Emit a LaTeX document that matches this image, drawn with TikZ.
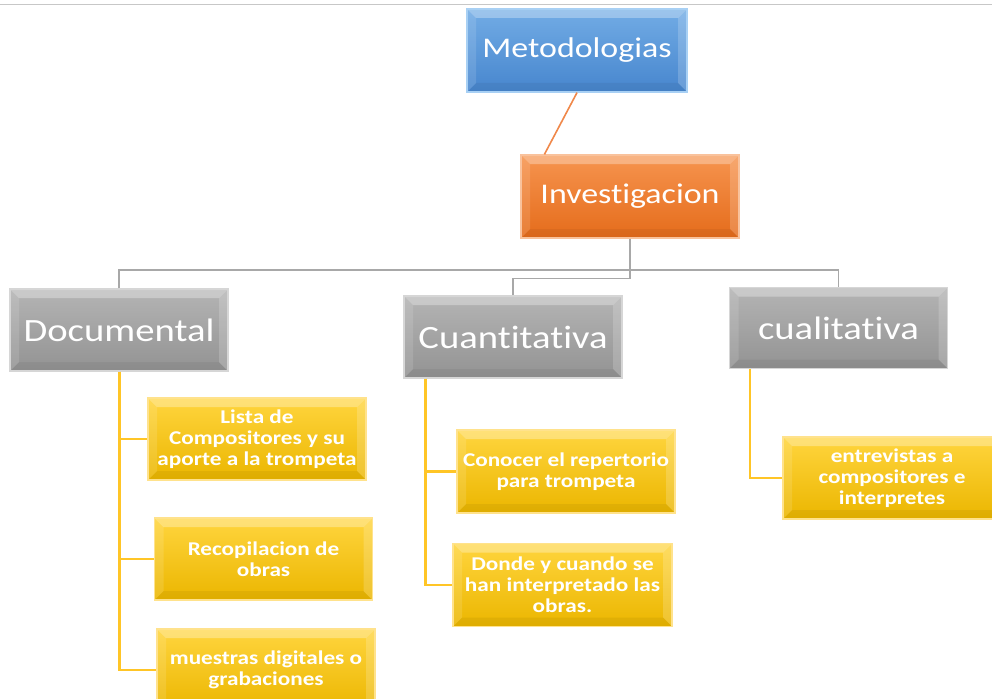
\documentclass[tikz,border=0pt]{standalone}
\usepackage{fontspec}
\setmainfont{Carlito}[FakeStretch=1.19, Ligatures={NoCommon}]
\usetikzlibrary{calc}
\definecolor{blueT}{HTML}{72ACE5}
\definecolor{blueB}{HTML}{4786CE}
\definecolor{blueD}{HTML}{A8D0F4}
\definecolor{orangeT}{HTML}{F6944F}
\definecolor{orangeB}{HTML}{E56C1B}
\definecolor{orangeD}{HTML}{F9C29C}
\definecolor{grayT}{HTML}{B4B4B4}
\definecolor{grayB}{HTML}{939393}
\definecolor{grayD}{HTML}{D6D6D6}
\definecolor{yellowT}{HTML}{FFD53E}
\definecolor{yellowB}{HTML}{EBB600}
\definecolor{yellowD}{HTML}{FFE28C}
\definecolor{lineGray}{HTML}{A8A8A8}
\definecolor{lineYellow}{HTML}{FFC526}
\definecolor{lineOrange}{HTML}{F0884A}
\tikzset{
  bevel/.style={path picture={
    \fill[white,opacity=.30] (path picture bounding box.north west) -- (path picture bounding box.north east)
      -- ([xshift=-9pt,yshift=-9pt]path picture bounding box.north east) -- ([xshift=9pt,yshift=-9pt]path picture bounding box.north west) -- cycle;
    \fill[white,opacity=.12] (path picture bounding box.north west) -- ([xshift=9pt,yshift=-9pt]path picture bounding box.north west)
      -- ([xshift=9pt,yshift=9pt]path picture bounding box.south west) -- (path picture bounding box.south west) -- cycle;
    \fill[white,opacity=.18] (path picture bounding box.north east) -- ([xshift=-9pt,yshift=-9pt]path picture bounding box.north east)
      -- ([xshift=-9pt,yshift=9pt]path picture bounding box.south east) -- (path picture bounding box.south east) -- cycle;
    \fill[black,opacity=.05] (path picture bounding box.south west) -- (path picture bounding box.south east)
      -- ([xshift=-9pt,yshift=9pt]path picture bounding box.south east) -- ([xshift=9pt,yshift=9pt]path picture bounding box.south west) -- cycle;
  }},
  box/.style={minimum width=218pt, minimum height=82pt, inner sep=1pt, align=center, text=white, line width=1.2pt, bevel},
  bluebox/.style={box, top color=blueT, bottom color=blueB, draw=blueD, font=\fontsize{28.5}{32}\selectfont},
  orangebox/.style={box, top color=orangeT, bottom color=orangeB, draw=orangeD, font=\fontsize{28.5}{32}\selectfont},
  graybox/.style={box, top color=grayT, bottom color=grayB, draw=grayD, font=\fontsize{32.5}{36}\selectfont},
  yellowbox/.style={box, top color=yellowT, bottom color=yellowB, draw=yellowD, font=\bfseries\fontsize{19.5}{21}\selectfont},
  gline/.style={draw=lineGray, line width=1.6pt},
  yline/.style={draw=lineYellow, line width=2.2pt},
  oline/.style={draw=lineOrange, line width=1.6pt},
  topline/.style={draw=black!22, line width=1pt}
}
\begin{document}
\begin{tikzpicture}[x=1pt,y=-1pt]
\useasboundingbox (0,0) rectangle (992,698);
\fill[white] (0,0) rectangle (992,698);
\draw[topline] (0,5) -- (992,5);

\node[bluebox, minimum width=220pt, minimum height=83pt] (met) at (577,50.5) {Metodologias};
\node[orangebox, minimum height=83pt] (inv) at (630,196.5) {Investigacion};

\node[graybox] (doc) at (119,330) {Documental};
\node[graybox] (cuan) at (513,337) {Cuantitativa};
\node[graybox, minimum height=81pt] (cual) at (838.5,328) {cualitativa};

\node[yellowbox] (lista) at (257,439) {Lista de\\Compositores y su\\aporte a la trompeta};
\node[yellowbox] (recop) at (263.5,559) {Recopilacion de\\obras};
\node[yellowbox] (muest) at (266,670) {muestras digitales o\\grabaciones};

\node[yellowbox, minimum height=83pt] (conocer) at (566,471.5) {Conocer el repertorio\\para trompeta};
\node[yellowbox, minimum width=219pt, minimum height=83pt] (donde) at (562.5,585) {Donde y cuando se\\han interpretado las\\obras.};

\node[yellowbox] (entrev) at (892,478) {entrevistas a\\compositores e\\interpretes};

\coordinate (bus) at (630,270);
\draw[oline] (met.south) -- ([xshift=24pt]inv.north west);
\draw[gline] (inv.south) -- ($(inv.south)+(0,40)$) -| (cuan.north);
\draw[gline] (doc.north) |- (bus) -| (cual.north);

\draw[yline] ([xshift=110pt]doc.south west) |- (lista.west);
\draw[yline] ([xshift=110pt]doc.south west) |- (recop.west);
\draw[yline] ([xshift=110pt]doc.south west) |- (muest.west);
\draw[yline] ([xshift=22pt]cuan.south west) |- (conocer.west);
\draw[yline] ([xshift=22pt]cuan.south west) |- (donde.west);
\draw[yline] ([xshift=21pt]cual.south west) |- (entrev.west);
\end{tikzpicture}
\end{document}
